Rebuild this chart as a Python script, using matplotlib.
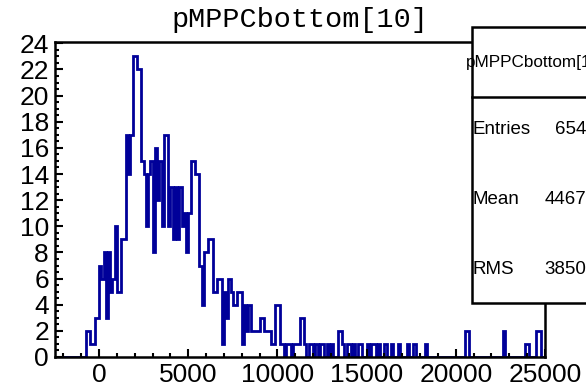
import numpy as np
import matplotlib
matplotlib.use("Agg")
import matplotlib.pyplot as plt
from matplotlib.ticker import MultipleLocator
from matplotlib.patches import Rectangle
from matplotlib.lines import Line2D

title = "pMPPCbottom[10]"
x_min, x_max = -2500, 25000
bin_width = 125
counts = [
    0, 0, 0, 0, 0, 0, 0, 0, 0, 0, 0, 0, 0, 0, 2, 2, 1, 1, 3, 3,
    7, 6, 8, 3, 8, 5, 6, 10, 5, 5, 9, 9, 17, 14, 17, 23, 23, 22, 22, 15,
    14, 10, 14, 15, 8, 16, 12, 15, 10, 17, 17, 10, 13, 9, 13, 9, 13, 10, 11, 8,
    11, 15, 15, 14, 14, 7, 4, 8, 8, 9, 9, 5, 5, 6, 6, 1, 5, 3, 6, 5,
    4, 4, 5, 5, 1, 4, 2, 4, 2, 2, 2, 2, 3, 3, 2, 2, 2, 1, 1, 4,
    4, 1, 1, 0, 1, 1, 0, 1, 1, 1, 3, 3, 1, 0, 1, 1, 0, 1, 0, 1,
    1, 0, 1, 0, 1, 0, 0, 2, 2, 1, 0, 1, 1, 0, 1, 0, 1, 1, 0, 0,
    1, 0, 1, 1, 0, 1, 0, 0, 1, 0, 0, 1, 0, 0, 1, 0, 0, 0, 1, 0,
    0, 1, 0, 0, 0, 0, 1, 0, 0, 0, 0, 0, 0, 0, 0, 0, 0, 0, 0, 0,
    0, 0, 0, 0, 2, 2, 0, 0, 0, 0, 0, 0, 0, 0, 0, 0, 0, 0, 0, 0,
    0, 2, 0, 0, 0, 0, 0, 0, 0, 0, 0, 1, 1, 0, 0, 0, 2, 2, 0, 0,
]
stat_labels = ["Entries", "Mean", "RMS"]
stat_values = ["654", "4467", "3850"]

edges = x_min + bin_width * np.arange(len(counts) + 1)

W, H = 586, 389
fig = plt.figure(figsize=(W / 100, H / 100), dpi=100)
L, R, T, B = 54.5, 545, 42, 357
ax = fig.add_axes([L / W, 1 - B / H, (R - L) / W, (B - T) / H])
ax.stairs(counts, edges, color="#000099", linewidth=2.0, baseline=0)
ax.set_xlim(x_min, x_max)
ax.set_ylim(0, 24.1)
ax.xaxis.set_major_locator(MultipleLocator(5000))
ax.xaxis.set_minor_locator(MultipleLocator(1000))
ax.yaxis.set_major_locator(MultipleLocator(2))
ax.yaxis.set_minor_locator(MultipleLocator(0.5))
ax.tick_params(which="both", direction="in", top=False, right=False, width=1.5)
ax.tick_params(which="major", length=6, labelsize=19, pad=4)
ax.tick_params(which="minor", length=3)
for lab in ax.get_xticklabels() + ax.get_yticklabels():
    lab.set_family("Liberation Sans")
for s in ax.spines.values():
    s.set_linewidth(1.8)

fig.text(300 / W, 1 - 20 / H, title, family="Liberation Mono", size=20.5,
         ha="center", va="center")

# stats box
bx0, by0, by1 = 472, 27, 303
fig.add_artist(Rectangle((bx0 / W, 1 - by1 / H), (620 - bx0) / W, (by1 - by0) / H,
                         transform=fig.transFigure, facecolor="white",
                         edgecolor="black", linewidth=1.8, zorder=10))
fig.add_artist(Line2D([bx0 / W, 1.05], [1 - 97 / H] * 2, transform=fig.transFigure,
                      color="black", linewidth=1.8, zorder=11))
fig.text(466 / W, 1 - 62 / H, "pMPPCbottom[10]", family="Liberation Sans", size=12.3,
         ha="left", va="center", zorder=12)
for k, (lab, val) in enumerate(zip(stat_labels, stat_values)):
    yy = 1 - (130 + 70 * k) / H
    fig.text(473 / W, yy, lab, family="Liberation Sans", size=13.5, ha="left",
             va="center", zorder=12)
    fig.text(586 / W, yy, val, family="Liberation Sans", size=13.5, ha="right",
             va="center", zorder=12)

fig.savefig("out.png", dpi=100)
